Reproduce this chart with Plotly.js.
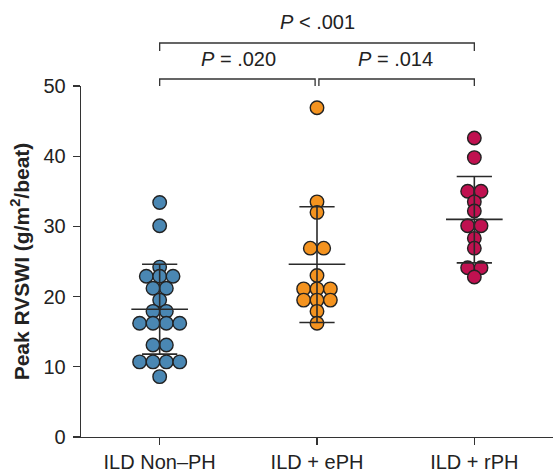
<!DOCTYPE html>
<html>
<head>
<meta charset="utf-8">
<script src="https://cdn.plot.ly/plotly-3.0.1.min.js"></script>
<style>html,body{margin:0;padding:0;background:#fff;}#chart{width:553px;height:474px;}</style>
</head>
<body>
<div id="chart"></div>
<script>
// Categories and values
const categories = ["ILD Non\u2013PH", "ILD + ePH", "ILD + rPH"];
const nonPH = [33.4, 30.1, 24.2, 22.9, 22.9, 22.9, 21.2, 21.2, 19.5, 17.9, 17.9, 16.2, 16.2, 16.2, 16.2, 13.1, 13.1, 10.7, 10.7, 10.7, 10.7, 8.6];
const ePH = [46.9, 33.5, 32.0, 26.9, 26.9, 23.0, 21.1, 21.1, 21.1, 19.5, 19.5, 19.5, 17.9, 16.2];
const rPH = [42.6, 39.8, 35.0, 35.0, 33.5, 32.2, 30.1, 30.1, 28.3, 26.9, 24.1, 24.1, 22.8];
const means = [18.2, 24.6, 31.0];
const sdLow = [11.8, 16.3, 24.8];
const sdHigh = [24.6, 32.8, 37.1];
const colors = ["#4a87b3", "#f4931f", "#c01150"];
const comparisons = [
  {from: 0, to: 1, text: "<i>P</i> = .020", level: 0},
  {from: 1, to: 2, text: "<i>P</i> = .014", level: 0},
  {from: 0, to: 2, text: "<i>P</i> < .001", level: 1}
];

const groups = [nonPH, ePH, rPH];
const spacing = 0.085; // horizontal step between neighbouring dots (x units)

function swarm(vals, center) {
  const xs = [];
  let i = 0;
  while (i < vals.length) {
    let j = i;
    while (j < vals.length && vals[j] === vals[i]) j++;
    const n = j - i;
    for (let k = 0; k < n; k++) xs.push(center + (k - (n - 1) / 2) * spacing);
    i = j;
  }
  return xs;
}

const traces = [];
groups.forEach((vals, g) => {
  traces.push({
    type: "scatter", mode: "markers",
    x: swarm(vals, g), y: vals,
    marker: {size: 13.5, color: colors[g], line: {color: "#222", width: 1.4}},
    hoverinfo: "y", showlegend: false
  });
});
const lineStyle = {color: "#2a2a2a", width: 1.6};
const meanHalf = 0.18, capHalf = 0.112;
groups.forEach((vals, g) => {
  traces.push({type: "scatter", mode: "lines", x: [g - meanHalf, g + meanHalf], y: [means[g], means[g]], line: lineStyle, hoverinfo: "skip", showlegend: false});
  traces.push({type: "scatter", mode: "lines", x: [g, g], y: [sdLow[g], sdHigh[g]], line: lineStyle, hoverinfo: "skip", showlegend: false});
  traces.push({type: "scatter", mode: "lines", x: [g - capHalf, g + capHalf], y: [sdLow[g], sdLow[g]], line: lineStyle, hoverinfo: "skip", showlegend: false});
  traces.push({type: "scatter", mode: "lines", x: [g - capHalf, g + capHalf], y: [sdHigh[g], sdHigh[g]], line: lineStyle, hoverinfo: "skip", showlegend: false});
});

const shapes = [];
const annotations = [];
const levelY = [1.02, 1.1225];
const tickDrop = [0.02, 0.023];
const textY = [1.078, 1.183];
const gap = 0.012;
comparisons.forEach(c => {
  const y = levelY[c.level], y2 = y - tickDrop[c.level];
  const x0 = c.from + (c.level === 0 && c.from > 0 ? gap : 0);
  const x1 = c.to - (c.level === 0 && c.to < 2 ? gap : 0);
  shapes.push({type: "path", xref: "x", yref: "paper",
    path: `M ${x0} ${y2} L ${x0} ${y} L ${x1} ${y} L ${x1} ${y2}`,
    line: {color: "#333", width: 1.3}});
  annotations.push({xref: "x", yref: "paper", x: (c.from + c.to) / 2, y: textY[c.level],
    text: c.text, showarrow: false, font: {size: 20, color: "#222"}, yanchor: "middle"});
});

const layout = {
  width: 553, height: 474,
  margin: {l: 81, r: 0, t: 86, b: 37},
  paper_bgcolor: "#fff", plot_bgcolor: "#fff",
  font: {family: "Liberation Sans, Arial, sans-serif", size: 20, color: "#222"},
  xaxis: {
    range: [-0.5, 2.5], tickmode: "array", tickvals: [0, 1, 2], ticktext: categories,
    showgrid: false, zeroline: false, showline: true, linecolor: "#333", linewidth: 1.3,
    ticks: "outside", ticklen: 7, tickwidth: 1.3, tickcolor: "#333",
    tickfont: {size: 20, color: "#222"}, fixedrange: true
  },
  yaxis: {
    range: [0, 50], tickvals: [0, 10, 20, 30, 40, 50],
    showgrid: false, zeroline: false, showline: true, linecolor: "#333", linewidth: 1.3,
    ticks: "outside", ticklen: 7, tickwidth: 1.3, tickcolor: "#333",
    ticklabelstandoff: 3,
    tickfont: {size: 20, color: "#222"},
    title: {text: "<b>Peak RVSWI (g/m<sup>2</sup>/beat)</b>", font: {size: 21, color: "#222"}, standoff: 8},
    fixedrange: true
  },
  shapes: shapes,
  annotations: annotations,
  showlegend: false
};

Plotly.newPlot("chart", traces, layout, {displayModeBar: false, staticPlot: true});
</script>
</body>
</html>
